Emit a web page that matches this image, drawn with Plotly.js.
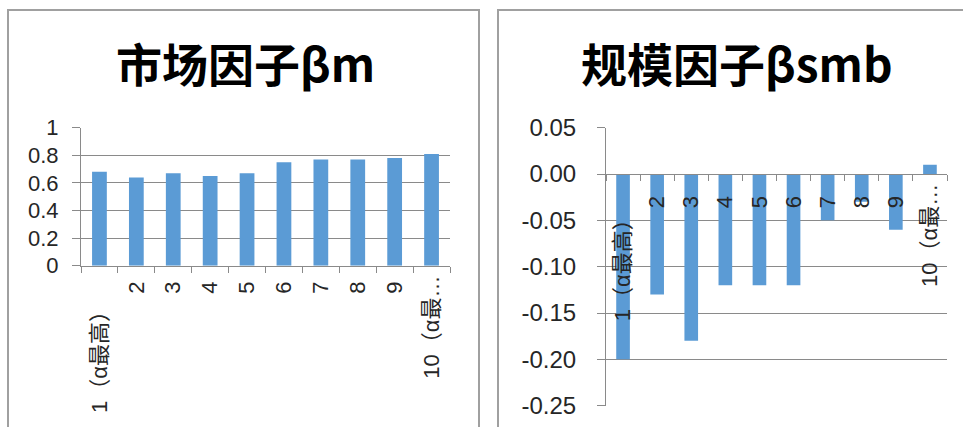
<!DOCTYPE html>
<html>
<head>
<meta charset="utf-8">
<script src="https://cdn.plot.ly/plotly-3.0.1.min.js"></script>
<style>
  html, body { margin: 0; padding: 0; background: #fff; }
  #chart { width: 963px; height: 427px; }
</style>
</head>
<body>
<div id="chart"></div>
<script>
// Portfolio groups, sorted by alpha (1 = highest alpha)
const groups = ['1（α最高）', '2', '3', '4', '5', '6', '7', '8', '9', '10（α最…'];

// Market factor loadings (beta_m)
const betaMarket = [0.68, 0.64, 0.67, 0.65, 0.67, 0.75, 0.77, 0.77, 0.78, 0.81];

// Size factor loadings (beta_smb)
const betaSize = [-0.20, -0.13, -0.18, -0.12, -0.12, -0.12, -0.05, -0.03, -0.06, 0.01];

// Axis ticks
const marketTicks = [0, 0.2, 0.4, 0.6, 0.8, 1];
const marketTickText = ['0', '0.2', '0.4', '0.6', '0.8', '1'];
const sizeTicks = [0.05, 0, -0.05, -0.10, -0.15, -0.20, -0.25];
const sizeTickText = ['0.05', '0.00', '-0.05', '-0.10', '-0.15', '-0.20', '-0.25'];

const titles = ['市场因子βm', '规模因子βsmb'];

const W = 963, H = 427;
const px = x => x / W;
const py = y => 1 - y / H;

const FONT = '"Liberation Sans", "Noto Sans CJK SC", sans-serif';
const TITLE_FONT = '"Noto Sans CJK SC", sans-serif';
const BAR = '#5B9BD5';
const GRID = '#8a8a8a';
const TEXT = '#262626';

// Rotated category labels: extra trailing space keeps them clear of the axis
const padLabels = gaps => groups.map((g, i) => g + '\u00a0'.repeat(gaps[i]));
const marketLabels = padLabels([4, 1, 1, 1, 1, 1, 1, 1, 1, 0]);
const sizeLabels = padLabels([4, 2, 2, 2, 2, 2, 2, 2, 2, 0]);

const sizeRange = [-0.25, 0.05];
const sizeTop = 127.7, sizeBottom = 405.7;
const zeroFrac = (0 - sizeRange[0]) / (sizeRange[1] - sizeRange[0]);
const sizeAxisPos = py(sizeBottom) + zeroFrac * (py(sizeTop) - py(sizeBottom));

const traces = [
  {
    type: 'bar', x: groups, y: betaMarket, xaxis: 'x', yaxis: 'y',
    marker: { color: BAR }, hoverinfo: 'x+y'
  },
  {
    type: 'bar', x: groups, y: betaSize, xaxis: 'x2', yaxis: 'y2',
    marker: { color: BAR }, hoverinfo: 'x+y'
  }
];

const catAxis = (domain, labels, fontSize) => ({
  domain: domain,
  type: 'category',
  tickvals: groups, ticktext: labels,
  showline: true, linecolor: GRID, linewidth: 1,
  ticks: 'outside', tickson: 'boundaries', ticklen: 6, tickcolor: GRID, tickwidth: 1,
  tickangle: -90,
  tickfont: { family: FONT, size: fontSize, color: TEXT },
  showgrid: false, zeroline: false, fixedrange: true
});

const valAxis = (domain, fontSize, standoff) => ({
  domain: domain,
  showline: true, linecolor: GRID, linewidth: 1,
  ticks: 'outside', ticklen: 8, tickcolor: GRID,
  showgrid: true, gridcolor: GRID, gridwidth: 1,
  zeroline: false,
  ticklabelstandoff: standoff,
  tickfont: { family: FONT, size: fontSize, color: TEXT },
  fixedrange: true
});

const layout = {
  width: W, height: H,
  margin: { l: 0, r: 0, t: 0, b: 0 },
  paper_bgcolor: '#fff', plot_bgcolor: '#fff',
  showlegend: false,
  bargap: 0.6,
  font: { family: FONT, color: TEXT },
  xaxis: Object.assign(catAxis([px(81), px(450)], marketLabels, 22), { anchor: 'y' }),
  yaxis: Object.assign(valAxis([py(265.7), py(127.7)], 22, 9), {
    anchor: 'x', range: [0, 1],
    tickvals: marketTicks, ticktext: marketTickText
  }),
  xaxis2: Object.assign(catAxis([px(606), px(947)], sizeLabels, 22), {
    anchor: 'free', position: sizeAxisPos
  }),
  yaxis2: Object.assign(valAxis([py(sizeBottom), py(sizeTop)], 24, 16), {
    anchor: 'x2', range: sizeRange,
    tickvals: sizeTicks, ticktext: sizeTickText
  }),
  annotations: [
    {
      text: titles[0], xref: 'paper', yref: 'paper',
      x: px(245.5), y: py(62), xanchor: 'center', yanchor: 'middle',
      showarrow: false,
      font: { family: TITLE_FONT, size: 46, color: '#000', weight: 700 }
    },
    {
      text: titles[1], xref: 'paper', yref: 'paper',
      x: px(737), y: py(62), xanchor: 'center', yanchor: 'middle',
      showarrow: false,
      font: { family: TITLE_FONT, size: 46, color: '#000', weight: 700 }
    }
  ],
  shapes: [
    // chart frames
    { type: 'rect', xref: 'paper', yref: 'paper',
      x0: px(8), x1: px(479), y0: py(460), y1: py(10),
      line: { color: '#a0a0a0', width: 2 }, layer: 'below' },
    { type: 'rect', xref: 'paper', yref: 'paper',
      x0: px(498), x1: px(1000), y0: py(460), y1: py(10),
      line: { color: '#a0a0a0', width: 2 }, layer: 'below' }
  ]
};

Plotly.newPlot('chart', traces, layout, { displayModeBar: false, staticPlot: true });
</script>
</body>
</html>
